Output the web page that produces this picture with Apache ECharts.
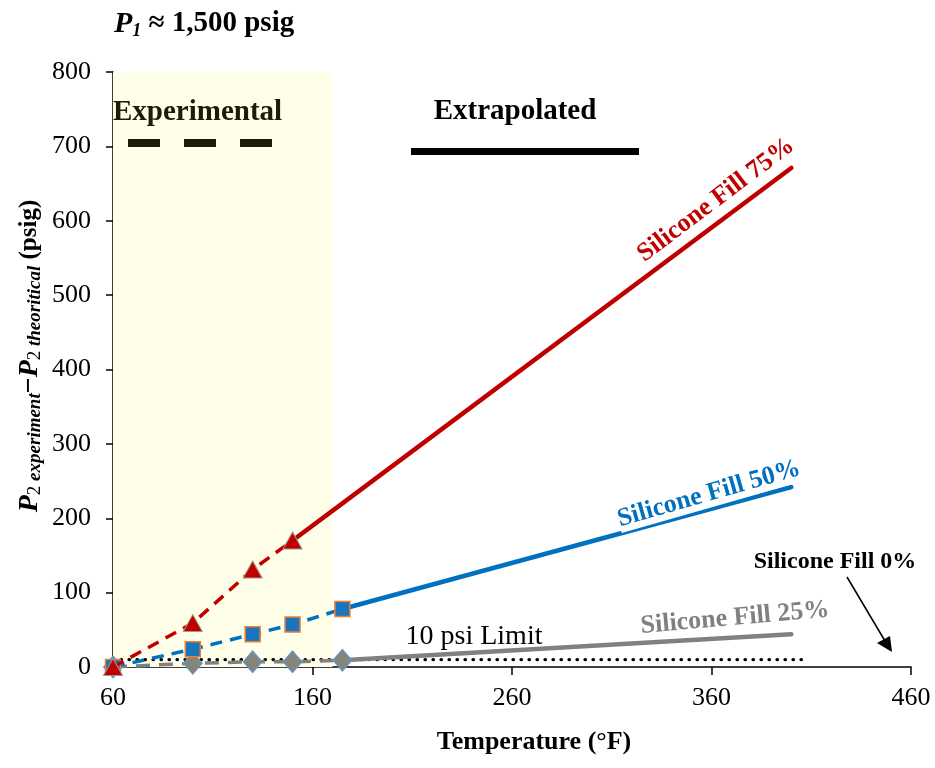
<!DOCTYPE html>
<html>
<head>
<meta charset="utf-8">
<script src="https://cdn.jsdelivr.net/npm/echarts@6/dist/echarts.min.js"></script>
<style>
  html, body { margin: 0; padding: 0; background: #fff; }
  #chart { width: 935px; height: 768px; }
</style>
</head>
<body>
<div id="chart"></div>
<script>
// measured points (experimental, dashed + markers)
var expTemps75 = [60, 100, 130, 150];
var exp75 = [0, 59, 131, 170];
var expTemps = [60, 100, 130, 150, 175];
var exp50 = [0, 24, 44, 57, 78];
var exp25 = [0, 5, 7, 7, 9];

// extrapolated (solid)
var extTemps75 = [150, 175, 400];
var ext75 = [170, 220, 671];
var extTemps = [175, 400];
var ext50 = [78, 242];
var ext25 = [9, 44];

// 10 psi limit
var limitTemps = [60, 408];
var limitVals = [10, 10];

var shadeRange = [60, 170];
var xTicks = [60, 160, 260, 360, 460];
var yTicks = [0, 100, 200, 300, 400, 500, 600, 700, 800];

var RED = '#c00000', BLUE = '#0070c0', GREY = '#808080';
var SERIF = '"Liberation Serif", "Times New Roman", serif';

function pairs(xs, ys) {
  return xs.map(function (x, i) { return [x, ys[i]]; });
}

var chart = echarts.init(document.getElementById('chart'));

chart.setOption({
  animation: false,
  backgroundColor: '#fff',
  grid: { left: 113, right: 24, top: 72, bottom: 101, containLabel: false },
  xAxis: {
    type: 'value',
    min: xTicks[0], max: xTicks[xTicks.length - 1], interval: 100,
    splitLine: { show: false },
    axisLine: { lineStyle: { color: '#000', width: 1.5 } },
    axisTick: { inside: false, length: 8, lineStyle: { color: '#000', width: 1.5 } },
    axisLabel: { color: '#000', fontFamily: SERIF, fontSize: 26, margin: 18 }
  },
  yAxis: {
    type: 'value',
    min: yTicks[0], max: yTicks[yTicks.length - 1], interval: 100,
    splitLine: { show: false },
    axisLine: { show: true, lineStyle: { color: '#000', width: 1.5 } },
    axisTick: { show: true, inside: false, length: 7, lineStyle: { color: '#000', width: 1.5 } },
    axisLabel: { color: '#000', fontFamily: SERIF, fontSize: 26, margin: 22 }
  },
  series: [
    {
      name: 'shade', type: 'line', data: [], silent: true,
      markArea: {
        silent: true,
        itemStyle: { color: '#fefee9' },
        data: [[{ xAxis: shadeRange[0], yAxis: yTicks[0] }, { xAxis: shadeRange[1], yAxis: yTicks[yTicks.length - 1] }]]
      }
    },
    {
      name: 'limit', type: 'line', data: pairs(limitTemps, limitVals), symbol: 'none',
      lineStyle: { color: '#000', width: 3.2, type: [0.5, 7.5], cap: 'round' }, z: 2
    },
    {
      name: '25ext', type: 'line', data: pairs(extTemps, ext25), symbol: 'none',
      lineStyle: { color: GREY, width: 4.5, cap: 'round' }, z: 3
    },
    {
      name: '50ext', type: 'line', data: pairs(extTemps, ext50), symbol: 'none',
      lineStyle: { color: BLUE, width: 4.5, cap: 'round' }, z: 3
    },
    {
      name: '75ext', type: 'line', data: pairs(extTemps75, ext75), symbol: 'none',
      lineStyle: { color: RED, width: 4.5, cap: 'round' }, z: 3
    },
    {
      name: '25exp', type: 'line', data: pairs(expTemps, exp25),
      symbol: 'diamond', symbolSize: [19, 22],
      itemStyle: { color: '#85857a', borderColor: '#5b9bd5', borderWidth: 1 },
      lineStyle: { color: GREY, width: 3.5, type: [14, 9] }, z: 4
    },
    {
      name: '50exp', type: 'line', data: pairs(expTemps, exp50),
      symbol: 'rect', symbolSize: 15,
      itemStyle: { color: '#1a75bc', borderColor: '#ed7d31', borderWidth: 1.5 },
      lineStyle: { color: BLUE, width: 3.5, type: [12, 8] }, z: 5
    },
    {
      name: '75exp', type: 'line', data: pairs(expTemps75, exp75),
      symbol: 'triangle', symbolSize: [19, 17],
      itemStyle: { color: RED, borderColor: '#9a9a8a', borderWidth: 1 },
      lineStyle: { color: RED, width: 3.5, type: [12, 8] }, z: 6
    }
  ],
  graphic: [
    // title
    {
      type: 'text', left: 114, top: 9, z: 100,
      style: {
        text: '{pi|P}{sub|1}{b| \u2248 1,500 psig}',
        rich: {
          pi: { fontFamily: SERIF, fontSize: 30, fontWeight: 'bold', fontStyle: 'italic', fill: '#000' },
          sub: { fontFamily: SERIF, fontSize: 18, fontWeight: 'bold', fontStyle: 'italic', fill: '#000', verticalAlign: 'bottom', padding: [14, 0, 0, 0] },
          b: { fontFamily: SERIF, fontSize: 29, fontWeight: 'bold', fill: '#000' }
        }
      }
    },
    // y-axis title
    {
      type: 'text', x: 30, y: 356, rotation: Math.PI / 2, z: 100,
      style: {
        text: '{p|P}{s|2 }{si|experiment}{m|\u2212}{p|P}{s|2 }{si|theoritical}{n| (psig)}',
        align: 'center', verticalAlign: 'middle',
        rich: {
          p: { fontFamily: SERIF, fontSize: 28, fontWeight: 'bold', fontStyle: 'italic', fill: '#000' },
          s: { fontFamily: SERIF, fontSize: 19, fill: '#000', padding: [10, 0, 0, 0] },
          si: { fontFamily: SERIF, fontSize: 19, fontWeight: 'bold', fontStyle: 'italic', fill: '#000', padding: [10, 0, 0, 0] },
          m: { fontFamily: SERIF, fontSize: 28, fontWeight: 'bold', fill: '#000' },
          n: { fontFamily: SERIF, fontSize: 25, fontWeight: 'bold', fill: '#000' }
        }
      }
    },
    // x-axis title
    {
      type: 'text', x: 534, y: 742, z: 100,
      style: { text: 'Temperature (\u00b0F)', align: 'center', verticalAlign: 'middle',
        fontFamily: SERIF, fontSize: 26, fontWeight: 'bold', fill: '#000' }
    },
    // Experimental legend
    {
      type: 'text', x: 113, y: 113, z: 100,
      style: { text: 'Experimental', align: 'left', verticalAlign: 'middle',
        fontFamily: SERIF, fontSize: 29, fontWeight: 'bold', fill: '#1c1c0a' }
    },
    {
      type: 'line', z: 100,
      shape: { x1: 128, y1: 143, x2: 272, y2: 143 },
      style: { stroke: '#1c1c0a', lineWidth: 8, lineDash: [32, 24] }
    },
    // Extrapolated legend
    {
      type: 'text', x: 515, y: 112, z: 100,
      style: { text: 'Extrapolated', align: 'center', verticalAlign: 'middle',
        fontFamily: SERIF, fontSize: 29, fontWeight: 'bold', fill: '#000' }
    },
    {
      type: 'line', z: 100,
      shape: { x1: 411, y1: 151.5, x2: 639, y2: 151.5 },
      style: { stroke: '#000', lineWidth: 7 }
    },
    // series labels
    {
      type: 'text', x: 716, y: 200, rotation: 37 * Math.PI / 180, z: 100,
      style: { text: 'Silicone Fill 75%', align: 'center', verticalAlign: 'middle',
        fontFamily: SERIF, fontSize: 26, fontWeight: 'bold', fill: RED }
    },
    {
      type: 'text', x: 709, y: 494, rotation: 16 * Math.PI / 180, z: 100,
      style: { text: 'Silicone Fill 50%', align: 'center', verticalAlign: 'middle',
        fontFamily: SERIF, fontSize: 26, fontWeight: 'bold', fill: BLUE,
        backgroundColor: '#fff', padding: [0, 0, 1, 0] }
    },
    {
      type: 'text', x: 735, y: 618, rotation: 5 * Math.PI / 180, z: 100,
      style: { text: 'Silicone Fill 25%', align: 'center', verticalAlign: 'middle',
        fontFamily: SERIF, fontSize: 26, fontWeight: 'bold', fill: GREY }
    },
    {
      type: 'text', x: 835, y: 562, z: 100,
      style: { text: 'Silicone Fill 0%', align: 'center', verticalAlign: 'middle',
        fontFamily: SERIF, fontSize: 24, fontWeight: 'bold', fill: '#000' }
    },
    {
      type: 'text', x: 474, y: 637, z: 100,
      style: { text: '10 psi Limit', align: 'center', verticalAlign: 'middle',
        fontFamily: SERIF, fontSize: 28, fill: '#000' }
    },
    // arrow to 0% fill
    {
      type: 'line', z: 100,
      shape: { x1: 847, y1: 577, x2: 885, y2: 641 },
      style: { stroke: '#000', lineWidth: 1.5 }
    },
    {
      type: 'polygon', z: 100,
      shape: { points: [[892, 652], [877, 643], [890, 636]] },
      style: { fill: '#000' }
    }
  ]
});
</script>
</body>
</html>
